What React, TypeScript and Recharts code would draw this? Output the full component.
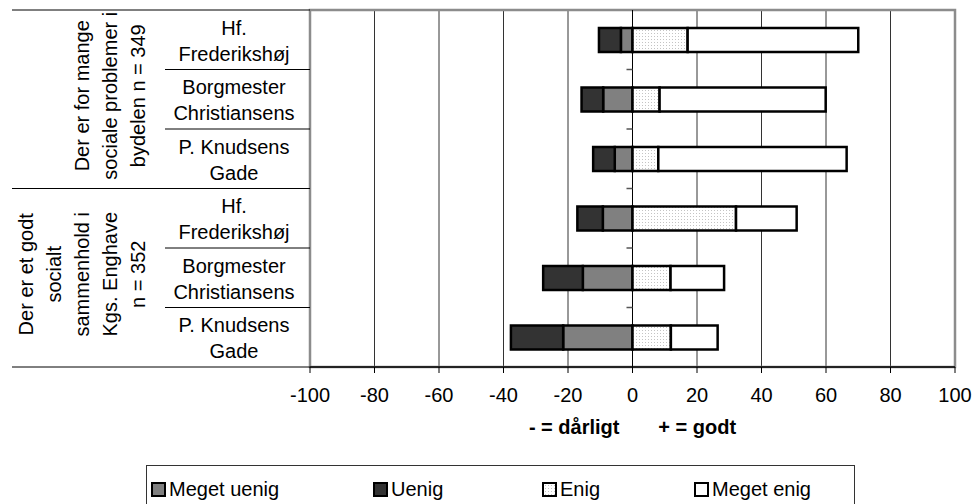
import React from "react";
import { BarChart, Bar, XAxis, YAxis, CartesianGrid, ReferenceLine, ReferenceArea } from "recharts";

// one id per row, the labels are looked up by index
const rowIds = ["mange-hf", "mange-borg", "mange-pk", "godt-hf", "godt-borg", "godt-pk"];
const schoolLines = [
  ["Hf.", "Frederikshøj"],
  ["Borgmester", "Christiansens"],
  ["P. Knudsens", "Gade"],
];
const groupLines = [
  ["Der er for mange", "sociale problemer i", "bydelen n = 349"],
  ["Der er et godt", "socialt", "sammenhold i", "Kgs. Enghave", "n = 352"],
];

// percentages, negative = disagree
const megetUenig = [-3.6, -9.1, -5.5, -9.2, -15.4, -21.5];
const uenig = [-6.8, -6.7, -6.7, -7.9, -12.3, -16.2];
const enig = [17.1, 8.4, 8.0, 32.1, 11.8, 11.9];
const megetEnig = [52.9, 51.5, 58.4, 18.8, 16.6, 14.5];

const xTicks = [-100, -80, -60, -40, -20, 0, 20, 40, 60, 80, 100];
const axisTitle = "- = dårligt\u00a0\u00a0\u00a0\u00a0\u00a0\u00a0\u00a0+ = godt";

const legendItems = [
  { label: "Meget uenig", fill: "#808080", left: 4 },
  { label: "Uenig", fill: "#333333", left: 226 },
  { label: "Enig", fill: "dots", left: 395 },
  { label: "Meget enig", fill: "#ffffff", left: 547 },
];

const W = 973;
const H = 504;
const TOP = 10;
const AXIS_H = 137;
const ROW_H = (H - TOP - AXIS_H) / rowIds.length;
const FONT = "'Liberation Sans', Arial, sans-serif";
const DOT = "#c4c4c4";

const data = rowIds.map((id, i) => ({
  id,
  mu: megetUenig[i],
  u: uenig[i],
  e: enig[i],
  me: megetEnig[i],
}));

function DotPattern({ id }: { id: string }) {
  return (
    <pattern id={id} width={3} height={3} patternUnits="userSpaceOnUse">
      <rect width={3} height={3} fill="#fff" />
      <rect width={1} height={1} fill={DOT} />
    </pattern>
  );
}

function RowTick(props: any) {
  const { y } = props;
  const index = props.index ?? props.payload?.index ?? 0;
  const lines = schoolLines[index % 3];
  const top = y - ROW_H / 2;
  const bottom = y + ROW_H / 2;
  const group = groupLines[Math.floor(index / 3)];
  return (
    <g>
      <line x1={index % 3 === 0 ? 12 : 165} x2={310} y1={top} y2={top} stroke="#000" strokeWidth={1} />
      {index === rowIds.length - 1 && (
        <line x1={12} x2={310} y1={bottom} y2={bottom} stroke="#000" strokeWidth={1} />
      )}
      <text x={234} y={y - 5} textAnchor="middle" fontSize={20} fill="#000" fontFamily={FONT}>
        {lines[0]}
      </text>
      <text x={234} y={y + 21} textAnchor="middle" fontSize={20} fill="#000" fontFamily={FONT}>
        {lines[1]}
      </text>
      {index % 3 === 1 &&
        group.map((t, k) => {
          const gx = 145 - (group.length - 1 - k) * 28;
          const gy = y - 3.5;
          return (
            <text
              key={k}
              x={gx}
              y={gy}
              transform={`rotate(-90, ${gx}, ${gy})`}
              textAnchor="middle"
              fontSize={20}
              fill="#000"
              fontFamily={FONT}
            >
              {t}
            </text>
          );
        })}
    </g>
  );
}

function ZeroAxis(props: any) {
  const { x1, y1, x2, y2 } = props;
  if ([x1, y1, x2, y2].some((v) => typeof v !== "number")) return null;
  const step = (y2 - y1) / rowIds.length;
  return (
    <g>
      <line x1={x1} x2={x2} y1={y1} y2={y2} stroke="#000" strokeWidth={1} />
      {rowIds.slice(1).map((_, k) => (
        <line
          key={k}
          x1={x1 - 6}
          x2={x1}
          y1={y1 + step * (k + 1)}
          y2={y1 + step * (k + 1)}
          stroke="#555"
          strokeWidth={1.5}
        />
      ))}
    </g>
  );
}

function Swatch({ fill }: { fill: string }) {
  return (
    <svg width={15} height={15} style={{ display: "block" }}>
      <defs>
        <DotPattern id="enigDotsL" />
      </defs>
      <rect
        x={1}
        y={1}
        width={13}
        height={13}
        fill={fill === "dots" ? "url(#enigDotsL)" : fill}
        stroke="#000"
        strokeWidth={2}
      />
    </svg>
  );
}

export default function App() {
  return (
    <div style={{ position: "relative", width: W, height: H, background: "#fff", fontFamily: FONT }}>
      <style>{"body{margin:0}"}</style>
      <BarChart
        width={W}
        height={H}
        data={data}
        layout="vertical"
        stackOffset="sign"
        barSize={24}
        margin={{ top: TOP, right: 18, bottom: 0, left: 0 }}
        style={{ fontFamily: FONT }}
      >
        <defs>
          <DotPattern id="enigDots" />
        </defs>
        <CartesianGrid horizontal={false} vertical stroke="#333" strokeWidth={1} />
        <ReferenceArea x1={-100} x2={100} fill="none" stroke="#8c8c8c" strokeWidth={2.5} />
        <XAxis
          type="number"
          domain={[-100, 100]}
          ticks={xTicks}
          interval={0}
          height={AXIS_H}
          tickSize={6}
          tickMargin={15}
          axisLine={{ stroke: "#000", strokeWidth: 1.5 }}
          tickLine={{ stroke: "#000" }}
          tick={{ fill: "#000", fontSize: 20 }}
          label={{
            content: ({ viewBox }: any) => (
              <text
                x={viewBox.x + viewBox.width / 2}
                y={viewBox.y + 67}
                textAnchor="middle"
                fontSize={20}
                fontWeight="bold"
                fill="#000"
                fontFamily={FONT}
              >
                {axisTitle}
              </text>
            ),
          }}
        />
        <YAxis
          type="category"
          dataKey="id"
          width={310}
          interval={0}
          axisLine={false}
          tickLine={false}
          tick={<RowTick />}
        />
        <ReferenceLine x={0} shape={<ZeroAxis />} />
        <Bar dataKey="mu" name="Meget uenig" stackId="s" fill="#808080" stroke="#000" strokeWidth={2.5} isAnimationActive={false} />
        <Bar dataKey="u" name="Uenig" stackId="s" fill="#333333" stroke="#000" strokeWidth={2.5} isAnimationActive={false} />
        <Bar dataKey="e" name="Enig" stackId="s" fill="url(#enigDots)" stroke="#000" strokeWidth={2.5} isAnimationActive={false} />
        <Bar dataKey="me" name="Meget enig" stackId="s" fill="#ffffff" stroke="#000" strokeWidth={2.5} isAnimationActive={false} />
      </BarChart>

      <div
        style={{
          position: "absolute",
          left: 146,
          top: 465,
          width: 709,
          height: 60,
          border: "1.5px solid #333",
          boxSizing: "border-box",
        }}
      >
        {legendItems.map((it) => (
          <div
            key={it.label}
            style={{
              position: "absolute",
              left: it.left,
              top: 13,
              display: "flex",
              alignItems: "center",
              gap: 3,
              fontSize: 20,
              color: "#000",
              lineHeight: "20px",
              whiteSpace: "nowrap",
            }}
          >
            <Swatch fill={it.fill} />
            <span>{it.label}</span>
          </div>
        ))}
      </div>
    </div>
  );
}
